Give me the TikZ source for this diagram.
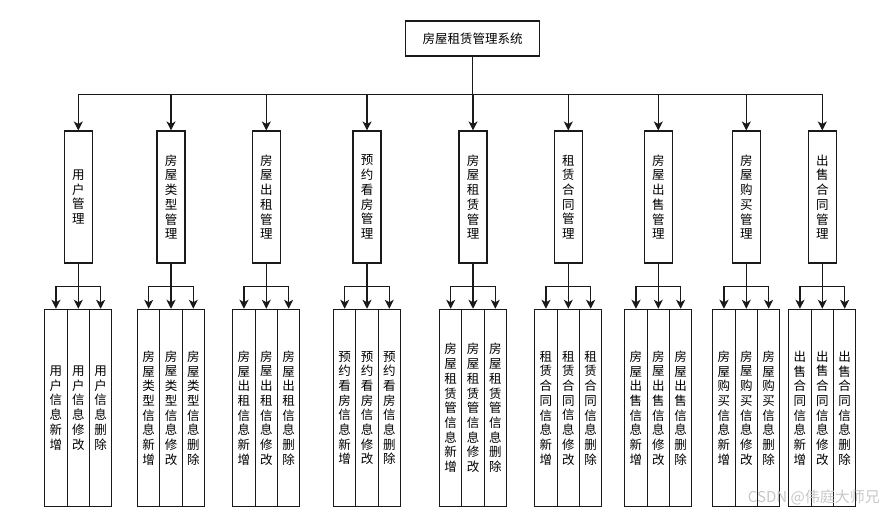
\documentclass[tikz,border=0pt]{standalone}
\usepackage{fontspec}
\setmainfont{Noto Sans CJK SC}
\usepackage{xcolor}
\usepackage{tikz}
\usetikzlibrary{arrows.meta}
\definecolor{figink}{HTML}{1A1A1A}
\definecolor{figmark}{HTML}{C8C8C8}
\tikzset{
  every picture/.append style={font=\fontsize{12.5}{14.7}\selectfont},
  box/.style={draw=figink,line width=1.1pt,inner sep=0pt,align=center},
  arr/.style={draw=figink,line width=1.1pt,-{Stealth[length=9pt,width=9pt,inset=2.5pt]}},
}

\begin{document}
\begin{tikzpicture}[x=1pt,y=-1pt]
    \useasboundingbox (0,0) rectangle (883,511);
    \node[box,minimum width=133.6pt,minimum height=35pt] (sys) at (472.5,38.5) {房屋租赁管理系统};
    \foreach \i/\cx/\mname/\lname in {
        1/78.3/{用\\户\\管\\理}/{用\\户\\信\\息},
        2/171/{房\\屋\\类\\型\\管\\理}/{房\\屋\\类\\型\\信\\息},
        3/266.3/{房\\屋\\出\\租\\管\\理}/{房\\屋\\出\\租\\信\\息},
        4/367/{预\\约\\看\\房\\管\\理}/{预\\约\\看\\房\\信\\息},
        5/473/{房\\屋\\租\\赁\\管\\理}/{房\\屋\\租\\赁\\管\\信\\息},
        6/568.3/{租\\赁\\合\\同\\管\\理}/{租\\赁\\合\\同\\信\\息},
        7/658.3/{房\\屋\\出\\售\\管\\理}/{房\\屋\\出\\售\\信\\息},
        8/746.3/{房\\屋\\购\\买\\管\\理}/{房\\屋\\购\\买\\信\\息},
        9/822.3/{出\\售\\合\\同\\管\\理}/{出\\售\\合\\同\\信\\息}} {
      \node[box,minimum width=28pt,minimum height=132pt] (m\i) at (\cx,197) {\mname};
      \draw[arr] (sys.south) -- ++(0,37.7) -| (m\i.north);
      \foreach \j/\dx/\op in {1/-22.33/{新\\增},2/0/{修\\改},3/22.33/{删\\除}} {
        \node[box,minimum width=22.33pt,minimum height=197.4pt] (l\i\j) at (\cx+\dx,408) {\lname\\\op};
        \draw[arr] (m\i.south) -- ++(0,23) -| (l\i\j.north);
      }
    }
    \node[text=figmark,anchor=east,inner sep=0pt,font=\fontsize{15}{15}\selectfont] (mark) at (880,497) {CSDN @伟庭大师兄};
  \end{tikzpicture}
\end{document}
